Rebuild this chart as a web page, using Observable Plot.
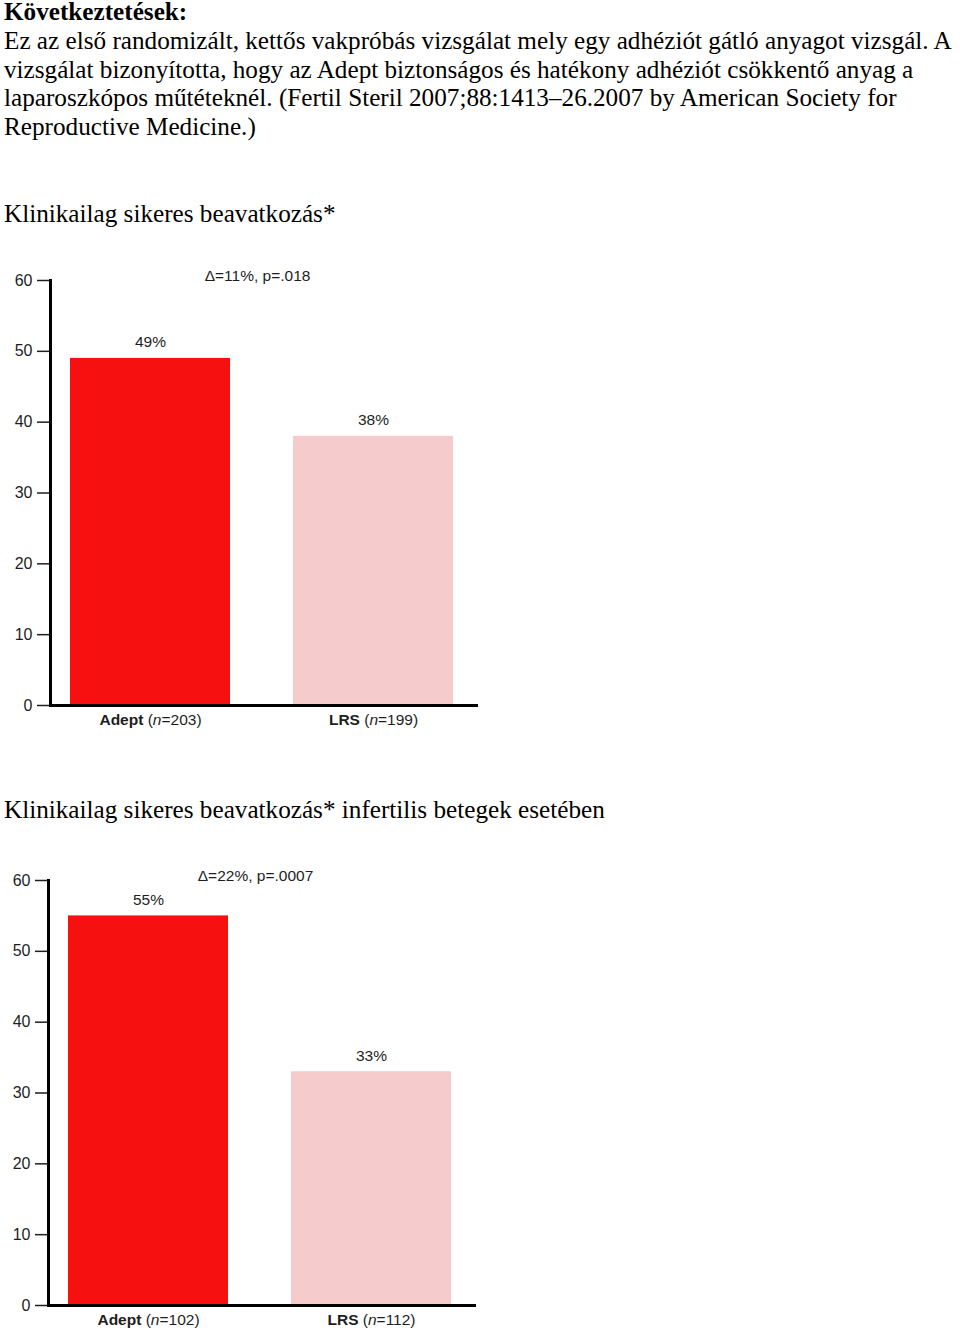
<!DOCTYPE html>
<html>
<head>
<meta charset="utf-8">
<script src="https://cdn.jsdelivr.net/npm/d3@7"></script>
<script src="https://cdn.jsdelivr.net/npm/@observablehq/plot@0.6"></script>
<style>
  html, body { margin: 0; padding: 0; background: #fff; }
  body { width: 960px; height: 1333px; position: relative; overflow: hidden; font-family: "Liberation Serif", "Times New Roman", serif; color: #000; }
  .intro { position: absolute; left: 4px; top: -2px; width: 958px; font-size: 25.2px; line-height: 28.8px; }
  .intro b { font-weight: bold; }
  .head { position: absolute; left: 4px; font-size: 25.2px; line-height: 29px; white-space: nowrap; }
  .chart { position: absolute; left: 0; }
  .chart svg { font-family: "Liberation Sans", Arial, sans-serif; overflow: visible; }
</style>
</head>
<body>
<div class="intro"><b>Következtetések:</b><br>Ez az első randomizált, kettős vakpróbás vizsgálat mely egy adhéziót gátló anyagot vizsgál. A vizsgálat bizonyította, hogy az Adept biztonságos és hatékony adhéziót csökkentő anyag a laparoszkópos műtéteknél. (Fertil Steril 2007;88:1413–26.2007 by American Society for Reproductive Medicine.)</div>
<div class="head" style="top:199px">Klinikailag sikeres beavatkozás*</div>
<div class="chart" id="c1" style="top:258px"></div>
<div class="head" style="top:795px">Klinikailag sikeres beavatkozás* infertilis betegek esetében</div>
<div class="chart" id="c2" style="top:858px; left:-2px"></div>
<script>
const groups = ["Adept", "LRS"];
const colors = ["#f61010", "#f6cbcc"];
const yTicks = [0, 10, 20, 30, 40, 50, 60];

const chart1Values = [49, 38];
const chart1N = [203, 199];
const chart1Note = "Δ=11%, p=.018";

const chart2Values = [55, 33];
const chart2N = [102, 112];
const chart2Note = "Δ=22%, p=.0007";

function makeChart(values, ns, note) {
  const data = groups.map((g, i) => ({group: g, value: values[i], n: ns[i], color: colors[i]}));
  const svg = Plot.plot({
    width: 490,
    height: 480,
    marginTop: 22,
    marginBottom: 33,
    marginLeft: 50,
    marginRight: 12,
    style: {fontSize: "15.5px", fontFamily: "Liberation Sans, Arial, sans-serif", color: "#1e1e1e"},
    x: {domain: groups, range: [50, 478], paddingInner: 0.283, paddingOuter: 0.1, align: 0.45, label: null, axis: null},
    y: {domain: [0, 60], label: null, axis: null},
    marks: [
      Plot.barY(data, {x: "group", y: "value", fill: "color"}),
      Plot.axisY({ticks: yTicks, tickSize: 13, tickPadding: 5, strokeWidth: 1.5, label: null, fontSize: 16}),
      Plot.axisX({tickSize: 0, tickPadding: 8, label: null, fontSize: 15.5}),
      Plot.frame({anchor: "left", strokeWidth: 3, stroke: "#000"}),
      Plot.ruleY([0], {strokeWidth: 3, stroke: "#000"}),
      Plot.text(data, {x: "group", y: "value", text: d => d.value + "%", dy: -16, fontSize: 15.5, fill: "#1e1e1e"}),
      Plot.text([note], {frameAnchor: "top", dx: -7, dy: -11, fontSize: 15.5, fill: "#1e1e1e"})
    ]
  });
  // style x tick labels: bold group name, italic n
  d3.select(svg).selectAll('g[aria-label="x-axis tick label"] text').each(function() {
    const t = d3.select(this);
    const name = t.text().trim();
    const row = data.find(r => r.group === name);
    if (!row) return;
    t.text(null);
    t.append("tspan").attr("font-weight", "bold").text(row.group);
    t.append("tspan").text(" (");
    t.append("tspan").attr("font-style", "italic").text("n");
    t.append("tspan").text("=" + row.n + ")");
  });
  return svg;
}

document.getElementById("c1").appendChild(makeChart(chart1Values, chart1N, chart1Note));
document.getElementById("c2").appendChild(makeChart(chart2Values, chart2N, chart2Note));
</script>
</body>
</html>
